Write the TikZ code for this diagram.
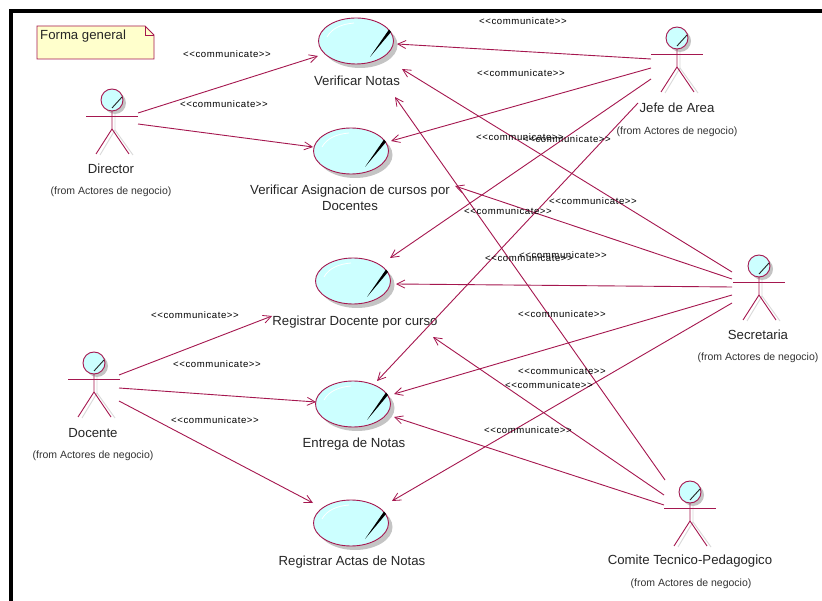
\documentclass[tikz,border=0pt]{standalone}
\usepackage{fontspec}
\setmainfont{Liberation Sans}
\usetikzlibrary{arrows.meta,shapes.geometric}
\definecolor{rose}{HTML}{A5174F}
\definecolor{aqua}{HTML}{CCFFFF}
\definecolor{notefill}{HTML}{FFFFCC}
\definecolor{shade}{HTML}{C4C4C4}
\tikzset{
  x=1pt,y=-1pt,
  assoc/.style={draw=rose,line width=0.9pt,-{Straight Barb[length=8pt,width=8pt,line width=0.8pt]}},
  ucase/.style={ellipse,draw=rose,line width=0.9pt,fill=aqua,minimum width=75pt,minimum height=46pt,inner sep=0pt},
  ucshadow/.style={ellipse,fill=shade,minimum width=75pt,minimum height=46pt,inner sep=0pt},
  uclabel/.style={font=\fontsize{13.2}{16}\selectfont,text=black!85,align=center,inner sep=0pt},
  fromlabel/.style={font=\fontsize{10.5}{12}\selectfont,text=black!80,inner sep=0pt},
  stereo/.style={font=\fontsize{9.6}{11}\selectfont\addfontfeature{LetterSpace=6},text=black,inner sep=0pt},
  limb/.style={draw=rose,line width=0.9pt},
  limbshadow/.style={draw=black!15,line width=0.9pt},
  head/.style={circle,draw=rose,line width=0.9pt,fill=aqua,minimum size=22pt,inner sep=0pt},
  headshadow/.style={circle,fill=shade,minimum size=22pt,inner sep=0pt},
}
% #1 name, #2 x, #3 y (centre)
\newcommand{\usecasefig}[3]{%
  \node[ucshadow] at (#2+4,#3+4) {};
  \node[ucase] (#1) at (#2,#3) {};
  \draw[white,line width=0.8pt] (#2-29,#3-4) .. controls (#2-24,#3-13) and (#2-14,#3-17) .. (#2-2,#3-18);
  \fill[black] (#2+35,#3-9) -- (#2+33,#3-11.5) -- (#2+14,#3+16) -- cycle;
}
% #1 name, #2 x, #3 head y
\newcommand{\actorfig}[3]{%
  \draw[limbshadow] (#2+3,#3+11) -- (#2+3,#3+30) -- (#2-12,#3+55);
  \draw[limbshadow] (#2+3,#3+30) -- (#2+21,#3+55);
  \node[headshadow] at (#2+3,#3+3) {};
  \node[head] (#1) at (#2,#3) {};
  \draw[limb] (#2,#3+11) -- (#2,#3+29) -- (#2-16,#3+54);
  \draw[limb] (#2,#3+29) -- (#2+17,#3+54);
  \draw[limb] (#2-26,#3+16) -- (#2+26,#3+16);
  \draw[black!85,line width=0.9pt] (#2,#3+8) -- (#2+10,#3-3);
}
\begin{document}
\begin{tikzpicture}
\useasboundingbox (0,0) rectangle (822,601);
\fill[white] (0,0) rectangle (822,601);
\fill[black] (9,9) rectangle (822,13);
\fill[black] (9,9) rectangle (13,601);

% note
\draw[rose,line width=0.9pt,fill=notefill] (37,26) -- (145,26) -- (154,35) -- (154,59) -- (37,59) -- cycle;
\draw[rose,line width=0.7pt] (145,26) -- (145,35) -- (154,35);
\node[uclabel,anchor=west] (note) at (40,36) {Forma general};

% use cases
\usecasefig{vn}{356}{41}
\usecasefig{va}{351}{151}
\usecasefig{rd}{353}{281}
\usecasefig{en}{353}{404}
\usecasefig{ra}{351}{523}
\node[uclabel] (lvn) at (357,81) {Verificar Notas};
\node[uclabel] (lva) at (350,198) {Verificar Asignacion de cursos por\\Docentes};
\node[uclabel] (lrd) at (355,322) {Registrar Docente por curso};
\node[uclabel] (len) at (354,444) {Entrega de Notas};
\node[uclabel] (lra) at (352,562) {Registrar Actas de Notas};

% actors
\actorfig{dir}{112}{100}
\actorfig{jefe}{677}{38}
\actorfig{sec}{759}{266}
\actorfig{doc}{94}{363}
\actorfig{com}{690}{492}
\node[uclabel] (ldir) at (111,169) {Director};
\node[uclabel] (ljefe) at (677,108) {Jefe de Area};
\node[uclabel] (lsec) at (758,335) {Secretaria};
\node[uclabel] (ldoc) at (93,433) {Docente};
\node[uclabel] (lcom) at (690,561) {Comite Tecnico-Pedagogico};
\node[fromlabel] (fdir) at (111,192) {(from Actores de negocio)};
\node[fromlabel] (fjefe) at (677,132) {(from Actores de negocio)};
\node[fromlabel] (fsec) at (758,358) {(from Actores de negocio)};
\node[fromlabel] (fdoc) at (93,456) {(from Actores de negocio)};
\node[fromlabel] (fcom) at (691,584) {(from Actores de negocio)};

% connector ends at the actors
\coordinate (d1) at (138,113); \coordinate (d2) at (138,124);
\coordinate (j1) at (651,59);  \coordinate (j2) at (651,68);
\coordinate (j3) at (651,79);  \coordinate (j4) at (638,103);
\coordinate (s1) at (732,272); \coordinate (s2) at (732,279);
\coordinate (s3) at (732,287); \coordinate (s4) at (732,295);
\coordinate (s5) at (732,303);
\coordinate (o1) at (119,375); \coordinate (o2) at (119,388);
\coordinate (o3) at (119,401);
\coordinate (c1) at (665,480); \coordinate (c2) at (664,495);
\coordinate (c3) at (664,505);
% connector ends at the use cases
\coordinate (tvn1) at (318,56);  \coordinate (tvn2) at (397,44);
\coordinate (tvn3) at (402,69);  \coordinate (tvn4) at (395,97);
\coordinate (tva1) at (313,147); \coordinate (tva2) at (391,141);
\coordinate (tva3) at (455,186);
\coordinate (trd1) at (272,316); \coordinate (trd2) at (390,258);
\coordinate (trd3) at (396,284); \coordinate (trd4) at (433,337);
\coordinate (ten1) at (316,402); \coordinate (ten2) at (377,381);
\coordinate (ten3) at (394,394); \coordinate (ten4) at (394,417);
\coordinate (tra1) at (313,503); \coordinate (tra2) at (392,501);

\draw[assoc] (d1) -- (tvn1);
\draw[assoc] (d2) -- (tva1);
\draw[assoc] (j1) -- (tvn2);
\draw[assoc] (j2) -- (tva2);
\draw[assoc] (j3) -- (trd2);
\draw[assoc] (j4) -- (ten2);
\draw[assoc] (s1) -- (tvn3);
\draw[assoc] (s2) -- (tva3);
\draw[assoc] (s3) -- (trd3);
\draw[assoc] (s4) -- (ten3);
\draw[assoc] (s5) -- (tra2);
\draw[assoc] (o1) -- (trd1);
\draw[assoc] (o2) -- (ten1);
\draw[assoc] (o3) -- (tra1);
\draw[assoc] (c1) -- (tvn4);
\draw[assoc] (c2) -- (trd4);
\draw[assoc] (c3) -- (ten4);

% stereotypes
\node[stereo] (t1) at (227,54) {<{}<communicate>{}>};
\node[stereo] (t2) at (224,104) {<{}<communicate>{}>};
\node[stereo] (t3) at (523,21) {<{}<communicate>{}>};
\node[stereo] (t4) at (521,73) {<{}<communicate>{}>};
\node[stereo] (t5) at (520,137) {<{}<communicate>{}>};
\node[stereo] (t6) at (567,139) {<{}<communicate>{}>};
\node[stereo] (t7) at (593,201) {<{}<communicate>{}>};
\node[stereo] (t8) at (508,211) {<{}<communicate>{}>};
\node[stereo] (t9) at (563,255) {<{}<communicate>{}>};
\node[stereo] (t10) at (529,258) {<{}<communicate>{}>};
\node[stereo] (t11) at (562,314) {<{}<communicate>{}>};
\node[stereo] (t12) at (562,371) {<{}<communicate>{}>};
\node[stereo] (t13) at (549,385) {<{}<communicate>{}>};
\node[stereo] (t14) at (528,430) {<{}<communicate>{}>};
\node[stereo] (t15) at (195,315) {<{}<communicate>{}>};
\node[stereo] (t16) at (217,364) {<{}<communicate>{}>};
\node[stereo] (t17) at (215,420) {<{}<communicate>{}>};
\end{tikzpicture}
\end{document}
